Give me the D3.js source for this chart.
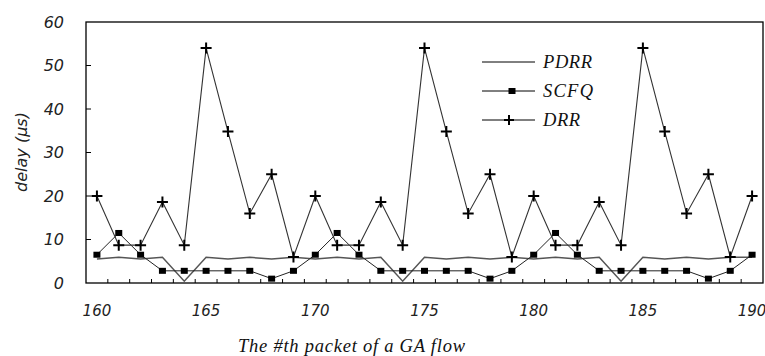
<!DOCTYPE html>
<html>
<head>
<meta charset="utf-8">
<script src="https://cdn.jsdelivr.net/npm/d3@7"></script>
<style>
  html, body { margin: 0; padding: 0; background: #fff; }
  svg { display: block; }
</style>
</head>
<body>
<svg id="chart" width="765" height="356"></svg>
<script>
// ---- data ----
const packets = d3.range(160, 191);
const pdrr = [5.5, 5.9, 5.5, 5.9, 0.4, 5.9, 5.5, 5.9, 5.5, 5.9,
              5.5, 5.9, 5.5, 5.9, 0.4, 5.9, 5.5, 5.9, 5.5, 5.9,
              5.5, 5.9, 5.5, 5.9, 0.4, 5.9, 5.5, 5.9, 5.5, 5.9, 5.9];
const scfq = [6.5, 11.5, 6.5, 2.8, 2.8, 2.8, 2.8, 2.8, 1.0, 2.8,
              6.5, 11.5, 6.5, 2.8, 2.8, 2.8, 2.8, 2.8, 1.0, 2.8,
              6.5, 11.5, 6.5, 2.8, 2.8, 2.8, 2.8, 2.8, 1.0, 2.8, 6.5];
const drr  = [20, 8.7, 8.7, 18.6, 8.7, 54, 34.8, 16, 25, 6,
              20, 8.7, 8.7, 18.6, 8.7, 54, 34.8, 16, 25, 6,
              20, 8.7, 8.7, 18.6, 8.7, 54, 34.8, 16, 25, 6, 20];
const xTickLabels = [160, 165, 170, 175, 180, 185, 190];
const yTicks = [0, 10, 20, 30, 40, 50, 60];
const seriesNames = ["PDRR", "SCFQ", "DRR"];

// ---- layout ----
const L = 86, R = 763, T = 22, B = 283;
const svg = d3.select("#chart");

const x = d3.scaleBand().domain(packets).range([L, R]).padding(0);
const cx = d => x(d) + x.bandwidth() / 2;
const y = d3.scaleLinear().domain([0, 60]).range([B, T]);

// frame
svg.append("rect").attr("x", L).attr("y", T).attr("width", R - L).attr("height", B - T)
  .attr("fill", "none").attr("stroke", "#000").attr("stroke-width", 1.3);

// x ticks (between categories, inward)
const bounds = packets.slice(1).map(p => x(p));
svg.append("g").selectAll("line").data(bounds).join("line")
  .attr("x1", d => d).attr("x2", d => d)
  .attr("y1", B).attr("y2", B - 4)
  .attr("stroke", "#000").attr("stroke-width", 1);

// y ticks (inward)
svg.append("g").selectAll("line").data(yTicks.slice(1, -1)).join("line")
  .attr("x1", L).attr("x2", L + 5)
  .attr("y1", d => y(d)).attr("y2", d => y(d))
  .attr("stroke", "#000").attr("stroke-width", 1);

// y tick labels
svg.append("g").selectAll("text").data(yTicks).join("text")
  .attr("x", 64).attr("y", d => y(d)).attr("dy", "0.36em")
  .attr("text-anchor", "end")
  .attr("font-family", "DejaVu Sans").attr("font-style", "italic")
  .attr("font-size", 16).attr("fill", "#222")
  .text(d => d);

// x tick labels
svg.append("g").selectAll("text").data(xTickLabels).join("text")
  .attr("x", d => cx(d)).attr("y", 316)
  .attr("text-anchor", "middle")
  .attr("font-family", "DejaVu Sans").attr("font-style", "italic")
  .attr("font-size", 15).attr("fill", "#222")
  .text(d => d);

// axis titles
svg.append("text")
  .attr("transform", "translate(27,152) rotate(-90)")
  .attr("text-anchor", "middle")
  .attr("font-family", "DejaVu Sans").attr("font-style", "italic")
  .attr("font-size", 16).attr("fill", "#222")
  .text("delay (μs)");

svg.append("text")
  .attr("x", 238).attr("y", 352)
  .attr("font-family", "Liberation Serif").attr("font-style", "italic")
  .attr("font-size", 18.5).attr("fill", "#111")
  .attr("textLength", 227).attr("lengthAdjust", "spacing")
  .text("The #th packet of a GA flow");

// lines
const line = d3.line().x((d, i) => cx(packets[i])).y(d => y(d));

svg.append("path").datum(pdrr).attr("d", line)
  .attr("fill", "none").attr("stroke", "#555").attr("stroke-width", 1.5);
svg.append("path").datum(scfq).attr("d", line)
  .attr("fill", "none").attr("stroke", "#222").attr("stroke-width", 1);
svg.append("path").datum(drr).attr("d", line)
  .attr("fill", "none").attr("stroke", "#333").attr("stroke-width", 1.1);

// SCFQ markers (squares)
svg.append("g").selectAll("rect").data(scfq).join("rect")
  .attr("x", (d, i) => cx(packets[i]) - 3.5).attr("y", d => y(d) - 3)
  .attr("width", 7).attr("height", 6).attr("fill", "#000");

// DRR markers (plus)
const plus = (px, py, s) => `M${px - s},${py}H${px + s}M${px},${py - s}V${py + s}`;
svg.append("g").selectAll("path").data(drr).join("path")
  .attr("d", (d, i) => plus(cx(packets[i]), y(d), 5.5))
  .attr("stroke", "#000").attr("stroke-width", 2).attr("fill", "none");

// legend
const legY = [62, 91, 120];
const legW = [49, 50, 37];
const lg = svg.append("g");
seriesNames.forEach((name, i) => {
  lg.append("line").attr("x1", 482).attr("x2", 535)
    .attr("y1", legY[i]).attr("y2", legY[i])
    .attr("stroke", "#000").attr("stroke-width", 1);
  lg.append("text").attr("x", 543).attr("y", legY[i] + 5.5)
    .attr("font-family", "Liberation Serif").attr("font-style", "italic")
    .attr("font-size", 18.5).attr("fill", "#111")
    .attr("textLength", legW[i]).attr("lengthAdjust", "spacing")
    .text(name);
});
lg.append("rect").attr("x", 508.5).attr("y", legY[1] - 3).attr("width", 7).attr("height", 6).attr("fill", "#000");
lg.append("path").attr("d", plus(509, legY[2], 5)).attr("stroke", "#000").attr("stroke-width", 2);
</script>
</body>
</html>
